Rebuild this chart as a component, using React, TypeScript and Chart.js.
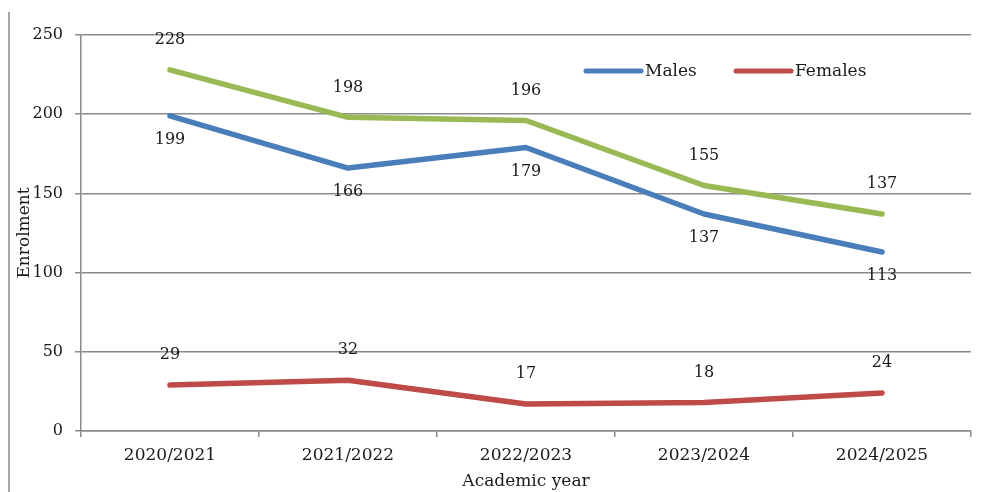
import React, { useEffect, useRef } from "react";
import { Chart, registerables } from "chart.js";

Chart.register(...registerables);

const categories = ["2020/2021", "2021/2022", "2022/2023", "2023/2024", "2024/2025"];
const totalValues = [228, 198, 196, 155, 137];
const maleValues = [199, 166, 179, 137, 113];
const femaleValues = [29, 32, 17, 18, 24];
const yTicks = [0, 50, 100, 150, 200, 250];

const FONT = "'DejaVu Serif', 'Liberation Serif', serif";
const BLUE = "#4A7EBB";
const RED = "#BE4B48";
const GREEN = "#98B954";
const GRID = "#8a8a8a";
const TEXT = "#1a1a1a";

const labelOffsets: Record<string, number> = { Total: -30, Males: 24, Females: -30 };

const customPlugin = {
  id: "custom",
  afterDatasetsDraw(chart: any) {
    const ctx = chart.ctx;
    const area = chart.chartArea;
    ctx.save();
    // data labels
    ctx.font = `16px ${FONT}`;
    ctx.fillStyle = TEXT;
    ctx.textAlign = "center";
    ctx.textBaseline = "middle";
    chart.data.datasets.forEach((ds: any, i: number) => {
      const meta = chart.getDatasetMeta(i);
      const off = labelOffsets[ds.label] ?? -20;
      meta.data.forEach((pt: any, j: number) => {
        ctx.fillText(String(ds.data[j]), pt.x, pt.y + off);
      });
    });
    // legend
    const legendItems = [
      { label: "Males", color: BLUE, x: 586 },
      { label: "Females", color: RED, x: 736 },
    ];
    const ly = 71;
    ctx.font = `17px ${FONT}`;
    ctx.textAlign = "left";
    legendItems.forEach((it) => {
      ctx.strokeStyle = it.color;
      ctx.lineWidth = 5;
      ctx.lineCap = "round";
      ctx.beginPath();
      ctx.moveTo(it.x, ly);
      ctx.lineTo(it.x + 55, ly);
      ctx.stroke();
      ctx.fillStyle = TEXT;
      ctx.fillText(it.label, it.x + 59, ly + 1);
    });
    // axis titles
    ctx.font = `17px ${FONT}`;
    ctx.textAlign = "center";
    ctx.textBaseline = "middle";
    ctx.fillText("Academic year", (area.left + area.right) / 2, 482);
    ctx.save();
    ctx.translate(25, (area.top + area.bottom) / 2);
    ctx.rotate(-Math.PI / 2);
    ctx.fillText("Enrolment", 0, 0);
    ctx.restore();
    // left border line
    ctx.strokeStyle = GRID;
    ctx.lineWidth = 1.5;
    ctx.lineCap = "butt";
    ctx.beginPath();
    ctx.moveTo(9, 12);
    ctx.lineTo(9, 492);
    ctx.stroke();
    ctx.restore();
  },
};

export default function App() {
  const ref = useRef<HTMLCanvasElement | null>(null);
  useEffect(() => {
    if (!ref.current) return;
    const chart = new Chart(ref.current, {
      type: "line",
      data: {
        labels: categories,
        datasets: [
          { label: "Total", data: totalValues, borderColor: GREEN, backgroundColor: GREEN },
          { label: "Males", data: maleValues, borderColor: BLUE, backgroundColor: BLUE },
          { label: "Females", data: femaleValues, borderColor: RED, backgroundColor: RED },
        ].map((d) => ({
          ...d,
          borderWidth: 5.5,
          pointRadius: 0,
          pointHoverRadius: 0,
          tension: 0,
          borderCapStyle: "round" as const,
          borderJoinStyle: "round" as const,
        })),
      },
      options: {
        animation: false,
        responsive: false,
        maintainAspectRatio: false,
        layout: { padding: { top: 35, right: 24, left: 0, bottom: 0 } },
        plugins: { legend: { display: false }, tooltip: { enabled: false } },
        scales: {
          x: {
            type: "category",
            offset: true,
            grid: {
              display: true,
              offset: true,
              drawOnChartArea: false,
              drawTicks: true,
              tickLength: 6,
              color: GRID,
              lineWidth: 1.5,
            },
            border: { display: true, color: GRID, width: 1.5 },
            ticks: { font: { family: FONT, size: 17 }, color: TEXT, padding: 8, maxRotation: 0 },
            afterFit: (s: any) => {
              s.height = 61;
            },
          },
          y: {
            min: 0,
            max: 250,
            afterBuildTicks: (s: any) => {
              s.ticks = yTicks.map((v) => ({ value: v }));
            },
            grid: { color: GRID, lineWidth: 1.5, tickLength: 6, drawTicks: true },
            border: { display: true, color: GRID, width: 1.5 },
            ticks: { font: { family: FONT, size: 16 }, color: TEXT, padding: 12 },
            afterFit: (s: any) => {
              s.width = 81;
            },
          },
        },
      },
      plugins: [customPlugin],
    });
    return () => chart.destroy();
  }, []);
  return (
    <div style={{ position: "absolute", left: 0, top: 0, width: 995, height: 492, background: "#fff" }}>
      <canvas ref={ref} width={995} height={492} style={{ display: "block" }} />
    </div>
  );
}
